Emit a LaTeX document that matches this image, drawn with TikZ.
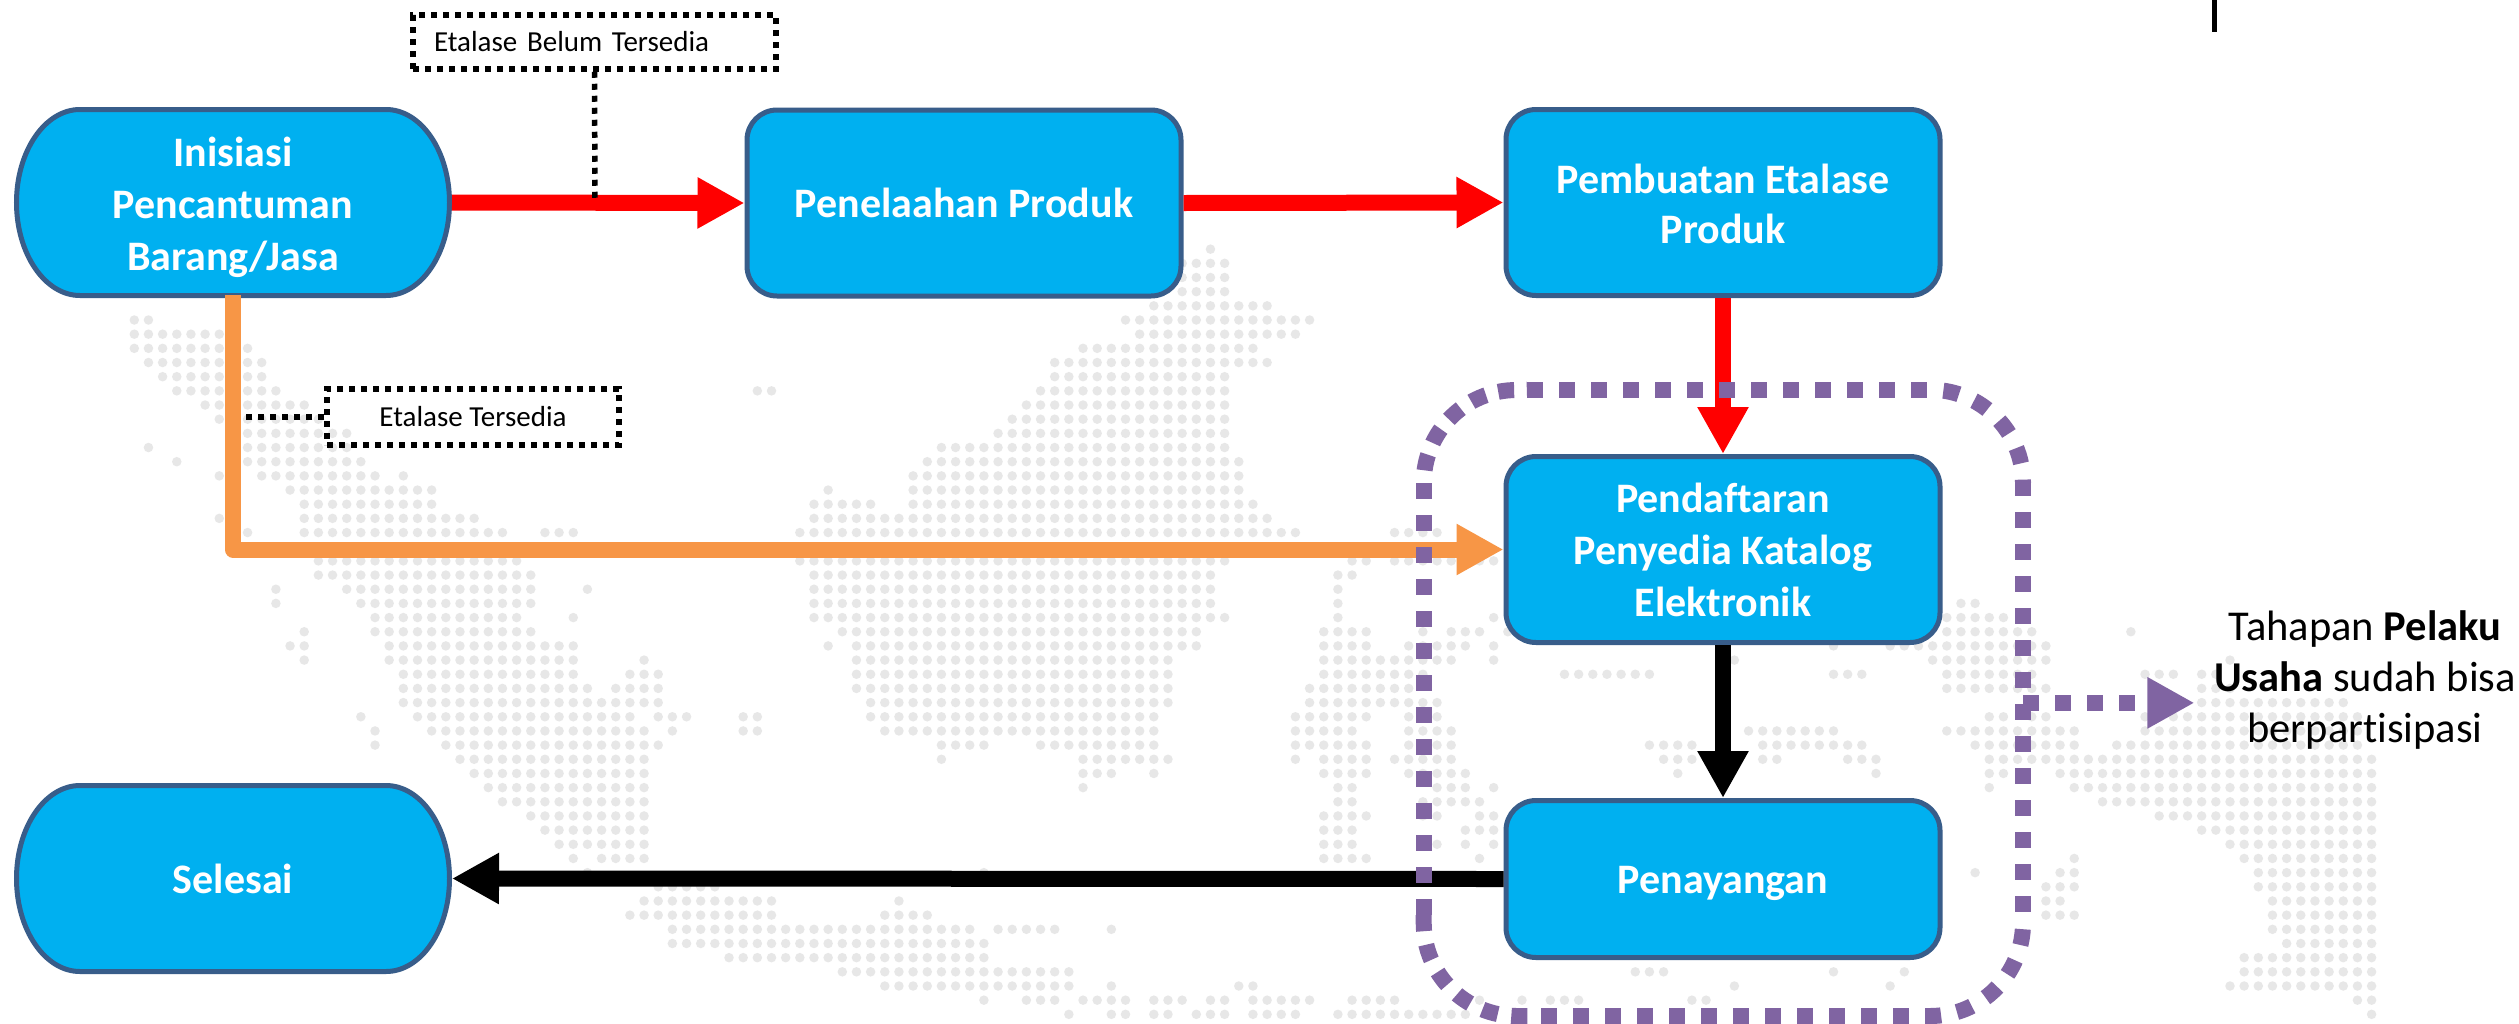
\documentclass[tikz,border=0pt]{standalone}
\usepackage{fontspec}
\setmainfont{Carlito}[Ligatures=NoCommon]
\usetikzlibrary{arrows.meta,backgrounds,calc}
\definecolor{boxfill}{HTML}{00B0F0}
\definecolor{boxline}{HTML}{385D8A}
\definecolor{flowred}{HTML}{FF0000}
\definecolor{floworange}{HTML}{F79646}
\definecolor{groupviolet}{HTML}{8064A2}
\definecolor{mapgrey}{HTML}{E7E7E7}
\newcommand{\lowerline}[2]{\raisebox{-#1}[\height][\depth]{#2}}
\tikzset{
  stagetext/.style={text=white,align=center,font=\fontsize{42}{52}\selectfont\bfseries,inner sep=0pt,line width=5pt},
  stagebox/.style={stagetext,draw=boxline,fill=boxfill,rounded corners=30pt,minimum width=434pt,minimum height=186pt},
  termbox/.style={stagetext,minimum width=433pt,minimum height=186pt},
  termshape/.style={draw=boxline,fill=boxfill,line width=5pt},
  flow/.style={line width=16pt,-{Triangle[length=47pt,width=48pt]}},
  dotbox/.style={draw=black,line width=5.5pt,dash pattern=on 6pt off 6pt,font=\fontsize{29}{34}\selectfont,text=black},
  dotlink/.style={draw=black,line width=5.5pt,dash pattern=on 6pt off 6pt},
  mapdots/.style={draw=mapgrey,line width=9.5pt,line cap=round,dash pattern=on 0pt off 14.16pt},
  groupside/.style={draw=groupviolet,line width=16pt,dash pattern=on 16pt off 16pt},
  groupcorner/.style={draw=groupviolet,line width=16pt,dash pattern=on 16pt off #1pt,dash phase=16pt},
}
\newcommand{\terminator}[1]{%
  \draw[termshape] ([xshift=66pt,yshift=-2.5pt]#1.north west) -- ([xshift=-66pt,yshift=-2.5pt]#1.north east)
    arc[start angle=90,end angle=-90,x radius=63.5pt,y radius=93pt]
    -- ([xshift=66pt,yshift=2.5pt]#1.south west)
    arc[start angle=270,end angle=90,x radius=63.5pt,y radius=93pt] -- cycle;}
\begin{document}
\begin{tikzpicture}[x=1pt,y=-1pt]
\useasboundingbox (0,0) rectangle (2519,1023);
\begin{scope}[on background layer]
\fill[white] (0,0) rectangle (2519,1023);
\foreach \r/\a/\b in {-5/76/76,-4/74/77,-3/74/77,-2/74/77,-1/72/80,
0/0/1,0/70/83,1/0/6,1/71/82,2/0/8,2/67/79,3/1/9,3/65/80,4/2/9,4/65/77,
5/3/10,5/44/45,5/64/77,6/5/12,6/63/77,7/6/13,7/62/77,8/8/15,8/61/77,
9/1/1,9/8/15,9/57/77,10/3/3,10/8/16,10/56/78,11/6/6,11/9/17,11/19/19,11/55/78,
12/11/21,12/49/49,12/55/78,13/12/21,13/48/52,13/55/79,14/6/6,14/12/24,14/48/80,
15/8/8,15/12/26,15/29/31,15/47/82,15/89/92,
17/13/27,17/47/77,17/86/87,17/89/96,18/13/28,18/48/76,18/85/86,
19/10/10,19/15/28,19/32/32,19/48/76,19/85/85,
20/10/10,20/16/28,20/48/76,20/85/85,20/129/130,
21/17/27,21/31/31,21/48/77,21/85/85,21/96/96,21/128/132,
22/12/12,22/17/28,22/50/75,22/84/87,22/91/91,22/93/95,22/97/97,22/128/134,22/141/141,
23/11/12,23/18/31,23/49/49,23/51/75,23/84/87,23/90/94,23/96/96,23/120/120,23/124/135,
24/12/12,24/18/31,24/36/36,24/51/73,24/84/93,24/96/96,24/113/113,24/127/135,24/148/148,
25/19/31,25/35/37,25/51/73,25/84/91,25/101/107,25/120/122,25/128/134,25/142/144,25/146/147,
26/19/32,26/34/37,26/51/73,26/83/90,26/128/135,26/146/148,
27/19/37,27/52/73,27/83/92,27/146/156,
28/16/16,28/20/35,28/37/39,28/43/44,28/52/72,28/82/87,28/90/92,28/131/132,28/134/135,28/142/157,
29/17/17,29/21/36,29/38/38,29/43/44,29/53/72,29/82/86,29/90/93,29/114/120,29/128/137,29/142/157,
30/17/17,30/22/37,30/57/60,30/64/72,30/82/87,30/90/93,30/107/110,30/115/122,30/130/137,30/140/157,
31/23/36,31/57/57,31/67/73,31/82/82,31/84/87,31/89/93,31/108/110,31/115/116,31/121/123,31/131/158,
32/24/36,32/67/69,32/72/72,32/84/87,32/90/94,32/109/109,32/123/123,32/131/132,32/136/158,
33/25/36,33/67/67,33/85/86,33/92/94,33/96/96,33/131/131,33/137/158,
34/26/36,34/85/86,34/91/95,34/139/158,35/28/36,35/84/87,35/91/92,35/95/96,35/143/158,
36/29/36,36/84/86,36/94/96,36/146/158,37/30/36,37/84/86,37/92/92,37/94/94,37/96/96,37/148/158,
38/31/31,38/33/36,38/84/87,38/95/95,38/137/137,38/149/158,
39/32/32,39/60/60,39/130/130,39/136/137,39/150/158,40/37/41,40/135/137,40/150/158,
41/36/45,41/54/54,41/135/136,41/151/158,42/35/45,42/53/56,42/135/137,42/151/158,
43/38/59,43/61/65,43/69/69,43/151/158,44/38/60,44/152/158,45/42/60,45/149/158,
46/50/66,46/106/108,46/120/120,46/125/125,46/149/158,
47/53/66,47/69/69,47/78/79,47/113/113,47/124/124,47/148/158,
48/60/60,48/63/65,48/67/70,48/72/74,48/76/77,48/79/83,48/86/89,48/95/95,48/98/98,48/100/102,48/110/111,48/157/158,
49/66/66,49/69/70,49/72/73,49/75/77,49/79/82,49/85/94,49/158/158}{
  \draw[mapdots] ({134.3+14.16*\a},{320+14.17*\r}) -- ({135.3+14.16*\b},{320+14.17*\r});
}
\end{scope}
% stages
\node[termbox] (start) at (233,202.5) {\lowerline{5pt}{Inisiasi}\\\lowerline{5pt}{Pencantuman}\\\lowerline{5pt}{Barang/Jasa}};
\node[stagebox] (review) at (964,203) {Penelaahan Produk};
\node[stagebox] (create) at (1723,202.5) {\lowerline{2pt}{Pembuatan Etalase}\\Produk};
\node[stagebox] (register) at (1723,549.5) {Pendaftaran\\Penyedia Katalog\\Elektronik};
\node[stagebox,minimum height=157pt] (display) at (1723,879) {\lowerline{4pt}{Penayangan}};
\node[termbox] (finish) at (233,878.5) {Selesai};
\begin{scope}[on background layer]
\terminator{start}
\terminator{finish}
\end{scope}
% labels
\node[dotbox,minimum width=363pt,minimum height=54pt,text width=321pt,align=left,inner xsep=21pt,inner ysep=0pt] (lblA) at (594.5,42) {Etalase Belum Tersedia};
\node[dotbox,minimum width=292pt,minimum height=56pt,inner sep=0pt] (lblB) at (473,417) {Etalase Tersedia};
\coordinate (joinA) at (595,203);
\coordinate (joinB) at (233,417);
% connectors
\draw[flow,draw=flowred] (start.east) -- (review.west);
\draw[flow,draw=flowred] (review.east) -- (create.west);
\draw[flow,draw=flowred] (create.south) -- (register.north);
\draw[dotlink] (lblA.south) -- (joinA);
\draw[dotlink] (lblB.west) -- (joinB);
\draw[flow,draw=floworange,line join=round,shorten <=-3pt] (start.south) |- (register.west);
\draw[flow,draw=black] (register.south) -- (display.north);
\draw[flow,draw=black] (display.west) -- (finish.east);
% group
\node[inner sep=0pt,outer sep=0pt,minimum width=599.3pt,minimum height=626.3pt] (group) at (1723.35,702.85) {};
\draw[groupside] (1423.7,483) -- (1423.7,915);
\draw[groupside] (1527,389.7) -- (1927,389.7);
\draw[groupside] (2023,480) -- (2023,913);
\draw[groupside] (1541,1016) -- (1909,1016);
\draw[groupcorner=12.7] (1423.7,483) arc[start angle=180,end angle=90,radius=93pt] -- (1527,389.7);
\draw[groupcorner=16.4] (1927,389.7) -- (1930,389.7) arc[start angle=90,end angle=0,radius=93pt];
\draw[groupcorner=16.2] (2023,913) -- (2023,923) arc[start angle=0,end angle=-90,radius=93pt] -- (1909,1016);
\draw[groupcorner=13.7] (1541,1016) -- (1516.7,1016) arc[start angle=270,end angle=180,radius=93pt] -- (1423.7,915);
\node[align=center,font=\fontsize{42.5}{51}\selectfont,inner xsep=19.5pt,inner ysep=0pt,text=black] (note) at (2365,680) {Tahapan \textbf{Pelaku}\\\textbf{Usaha} sudah bisa\\berpartisipasi};
\draw[flow,draw=groupviolet,dash pattern=on 16pt off 16pt] (group.east) -- (group.east -| note.west);
\draw[black,line width=5pt] (2214,0) -- (2214,32);
\end{tikzpicture}
\end{document}
